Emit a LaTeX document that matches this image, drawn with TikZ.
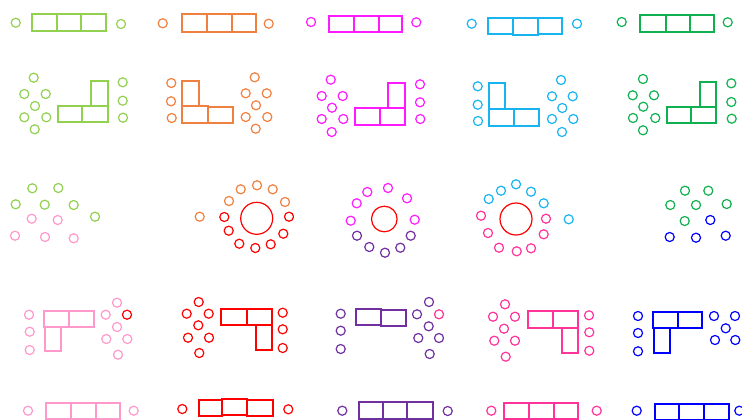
\documentclass[tikz,border=0pt]{standalone}
\definecolor{lg}{HTML}{92D050}
\definecolor{orn}{HTML}{F08040}
\definecolor{mg}{HTML}{FF1AFF}
\definecolor{cy}{HTML}{18B4F0}
\definecolor{dg}{HTML}{10B050}
\definecolor{lp}{HTML}{FF99CC}
\definecolor{rd}{HTML}{FF0000}
\definecolor{pu}{HTML}{7030A0}
\definecolor{hp}{HTML}{FF3399}
\definecolor{bl}{HTML}{0000FF}
\newcommand\chair[3]{\draw[seat,#1] (#2,#3) circle (3.4pt);}
\newcommand\desk[5]{\draw[tbl,#1] (#2,#3) rectangle (#4,#5);}
\tikzset{seat/.style={line width=0.9pt},tbl/.style={line width=1.5pt},
  big/.style={line width=0.9pt}}
\begin{document}
\begin{tikzpicture}[x=0.75pt,y=-0.75pt]
\useasboundingbox (0,0) rectangle (742,419);
\clip (0,0) rectangle (742,419);
% ---------- row 1 ----------
\chair{lg}{15.7}{22.7}
\desk{lg}{31.7}{14}{57.3}{30.7}\desk{lg}{57.3}{14}{81.3}{30.7}\desk{lg}{81.3}{14}{105.7}{30.7}
\chair{lg}{121}{24}
\chair{orn}{162.7}{23.3}
\desk{orn}{181.7}{14.3}{207.3}{31.7}\desk{orn}{207.3}{14.3}{232}{31.7}\desk{orn}{232}{14.3}{256}{31.7}
\chair{orn}{268.7}{23.7}
\chair{mg}{311}{22}
\desk{mg}{329}{16}{353.7}{32.3}\desk{mg}{353.7}{16}{378.7}{32.3}\desk{mg}{378.7}{16}{402.3}{32.3}
\chair{mg}{416.3}{22.3}
\chair{cy}{471.7}{23.7}
\desk{cy}{488.3}{17.7}{513}{34}\desk{cy}{513}{18.3}{538}{34.7}\desk{cy}{538}{17.7}{562}{34}
\chair{cy}{577}{23.7}
\chair{dg}{621.7}{22}
\desk{dg}{640}{14.7}{665.7}{31.7}\desk{dg}{665.7}{14.7}{690}{31.7}\desk{dg}{690}{14.7}{714}{31.7}
\chair{dg}{727.7}{22.3}
% ---------- row 2 ----------
\chair{lg}{33.7}{77.7}\chair{lg}{24.3}{94}\chair{lg}{45.7}{94}\chair{lg}{35}{106}
\chair{lg}{24.3}{117.3}\chair{lg}{46.3}{117.3}\chair{lg}{34.7}{129.3}
\desk{lg}{57.7}{106}{82.3}{122.3}\desk{lg}{82.3}{106}{107.7}{122.3}\desk{lg}{91}{80.7}{107.7}{106}
\chair{lg}{122.7}{82.3}\chair{lg}{122.7}{100.7}\chair{lg}{123}{117.7}
\chair{orn}{171.3}{83}\chair{orn}{171}{101.3}\chair{orn}{171.7}{118}
\desk{orn}{182.3}{80.7}{199.3}{106}\desk{orn}{182.3}{106}{207.7}{122.7}\desk{orn}{207.7}{106.7}{233}{122.7}
\chair{orn}{254.7}{77.3}\chair{orn}{245.7}{93.3}\chair{orn}{266.7}{93.3}\chair{orn}{256}{105.3}
\chair{orn}{245.7}{117}\chair{orn}{267.3}{117}\chair{orn}{255.7}{128.7}
\chair{mg}{330.7}{79.7}\chair{mg}{321.7}{96}\chair{mg}{342.7}{96}\chair{mg}{332}{107.7}
\chair{mg}{321.7}{119}\chair{mg}{343.3}{119}\chair{mg}{331.7}{132}
\desk{mg}{355}{108.3}{380}{124.7}\desk{mg}{380}{108.3}{404.7}{124.7}\desk{mg}{388.3}{83.3}{404.7}{108.3}
\chair{mg}{420}{84.3}\chair{mg}{420}{102.3}\chair{mg}{420.3}{119}
\chair{cy}{477.7}{86.3}\chair{cy}{477.7}{104.7}\chair{cy}{478}{121}
\desk{cy}{489.3}{83.3}{505}{109}\desk{cy}{489.3}{109}{513.7}{125.7}\desk{cy}{513.7}{109}{539}{125.7}
\chair{cy}{561}{80}\chair{cy}{552}{96.3}\chair{cy}{572.7}{96.3}\chair{cy}{562.3}{108}
\chair{cy}{552}{119}\chair{cy}{573.3}{119}\chair{cy}{562}{132}
\chair{dg}{643}{79}\chair{dg}{632.7}{95.3}\chair{dg}{654}{95.3}\chair{dg}{643.3}{106.7}
\chair{dg}{633}{118}\chair{dg}{655.3}{118}\chair{dg}{643}{130.3}
\desk{dg}{666.7}{106.7}{691.3}{123}\desk{dg}{691.3}{106.7}{716.3}{123}\desk{dg}{699.7}{82.3}{716.3}{106.7}
\chair{dg}{731.3}{83.3}\chair{dg}{731.3}{102}\chair{dg}{731.7}{118.7}
% ---------- row 3 ----------
\chair{lg}{32.3}{188.3}\chair{lg}{58.3}{188}\chair{lg}{15.7}{204.3}\chair{lg}{44.7}{204.7}
\chair{lg}{73.7}{205}\chair{lg}{95}{216.7}
\chair{lp}{31.7}{218.7}\chair{lp}{57.7}{220}\chair{lp}{15}{235.7}\chair{lp}{45}{237}\chair{lp}{73.7}{238.3}
\chair{orn}{199.7}{216.7}
\chair{orn}{229}{201}\chair{orn}{240.7}{189.3}\chair{orn}{257}{185.3}\chair{orn}{272.7}{189.3}\chair{orn}{285}{202}
\chair{rd}{224.3}{217}\chair{rd}{228.7}{230.7}\chair{rd}{239.3}{243.7}\chair{rd}{255.3}{248}
\chair{rd}{270.7}{244.3}\chair{rd}{283.3}{233.7}\chair{rd}{289}{216.7}
\draw[big,rd] (256.7,218.3) circle (12pt);
\chair{mg}{388}{188}\chair{mg}{367.3}{192}\chair{mg}{356.7}{203.3}\chair{mg}{407}{198.3}
\chair{mg}{350.7}{220.7}\chair{mg}{414.7}{219.7}
\chair{pu}{357}{235.7}\chair{pu}{369.3}{247}\chair{pu}{385}{252.7}\chair{pu}{400.3}{247.7}\chair{pu}{410.7}{235.7}
\draw[big,rd] (384.3,219) circle (9.6pt);
\chair{cy}{516}{184.3}\chair{cy}{501}{190.7}\chair{cy}{488.7}{199}\chair{cy}{531}{191.7}
\chair{cy}{543.7}{203.3}\chair{cy}{568.7}{219.3}
\chair{hp}{481}{215.7}\chair{hp}{488}{233}\chair{hp}{499}{247.7}\chair{hp}{516.7}{251.3}
\chair{hp}{531}{248.3}\chair{hp}{543.7}{234.3}\chair{hp}{546}{218.7}
\draw[big,rd] (516,219) circle (12pt);
\chair{dg}{685}{190.7}\chair{dg}{708.3}{190.7}\chair{dg}{670.3}{205}\chair{dg}{696}{205}
\chair{dg}{726.7}{204}\chair{dg}{684.7}{221}
\chair{bl}{710.3}{220}\chair{bl}{669.7}{237}\chair{bl}{696}{237.7}\chair{bl}{725.7}{235.7}
% ---------- row 4 ----------
\chair{lp}{29}{314.7}\chair{lp}{29.7}{331.7}\chair{lp}{29.7}{350}
\desk{lp}{44.3}{310.7}{69}{326.7}\desk{lp}{69}{310.7}{94}{326.7}\desk{lp}{45}{326.7}{61.3}{351}
\chair{lp}{117}{302.7}\chair{lp}{105.7}{314.7}\chair{rd}{127}{314.7}\chair{lp}{117}{327}
\chair{lp}{106.3}{339}\chair{lp}{127.3}{339}\chair{lp}{118}{354.7}
\chair{rd}{198.7}{302}\chair{rd}{186.7}{313.7}\chair{rd}{208.7}{313.7}\chair{rd}{198.3}{325.3}
\chair{rd}{188}{337.7}\chair{rd}{209}{337.7}\chair{rd}{199.3}{353}
\desk{rd}{221.3}{308.7}{246.7}{324.7}\desk{rd}{246.7}{308.7}{271.7}{324.7}\desk{rd}{255.7}{324.7}{272.3}{350.3}
\chair{rd}{282.7}{312.7}\chair{rd}{282.7}{329.3}\chair{rd}{282.7}{348}
\chair{pu}{340.7}{313.7}\chair{pu}{340.7}{330.7}\chair{pu}{340.7}{349}
\desk{pu}{356}{309.3}{381.3}{325.3}\desk{pu}{381.3}{310}{405.7}{326}
\chair{pu}{429}{302}\chair{pu}{417}{314.3}\chair{hp}{439}{314.3}\chair{pu}{428.7}{326.3}
\chair{pu}{418.3}{338}\chair{pu}{439}{338}\chair{pu}{429.7}{354}
\chair{hp}{505}{304.3}\chair{hp}{493}{316.7}\chair{hp}{515}{316.7}\chair{hp}{504}{328.7}
\chair{hp}{494.3}{340.7}\chair{hp}{515}{340.7}\chair{hp}{505.7}{356.7}
\desk{hp}{527.7}{311.3}{553}{327.7}\desk{hp}{553}{311.3}{578}{327.7}\desk{hp}{561.7}{327.7}{578}{353}
\chair{hp}{589}{315.3}\chair{hp}{589.3}{332.3}\chair{hp}{589.3}{350.7}
\chair{bl}{638}{316}\chair{bl}{638}{333}\chair{bl}{638}{351.3}
\desk{bl}{653}{311.7}{677.7}{327.7}\desk{bl}{677.7}{311.7}{702.3}{327.7}\desk{bl}{653.7}{327.7}{669.7}{352.7}
\chair{bl}{714}{316}\chair{bl}{735}{316}\chair{bl}{725.7}{328.3}\chair{bl}{715}{340}\chair{bl}{735.3}{340}
% ---------- row 5 ----------
\chair{lp}{28}{410.7}
\desk{lp}{46.3}{402.7}{71}{419}\desk{lp}{71}{402.7}{95.7}{419}\desk{lp}{95.7}{402.7}{120}{419}
\chair{lp}{133.7}{410.7}
\chair{rd}{182.3}{409}
\desk{rd}{199}{400}{222.3}{416.3}\desk{rd}{222.3}{398.7}{247}{415}\desk{rd}{247}{400}{272.7}{416.3}
\chair{rd}{288.3}{409.3}
\chair{pu}{342.3}{410.7}
\desk{pu}{358.7}{401.7}{382.7}{419}\desk{pu}{382.7}{401.7}{407.3}{419}\desk{pu}{407.3}{401.7}{432.7}{419}
\chair{pu}{447.7}{411}
\chair{hp}{491.3}{410.7}
\desk{hp}{504.3}{402.7}{529}{419}\desk{hp}{529}{402.7}{554}{419}\desk{hp}{554}{402.7}{578.3}{419}
\chair{hp}{596.7}{410.7}
\chair{bl}{636.7}{410.7}
\desk{bl}{654.7}{404}{679}{420}\desk{bl}{679}{404}{704}{420}\desk{bl}{704}{404}{729}{420}
\chair{bl}{739.3}{410.7}
\end{tikzpicture}
\end{document}
